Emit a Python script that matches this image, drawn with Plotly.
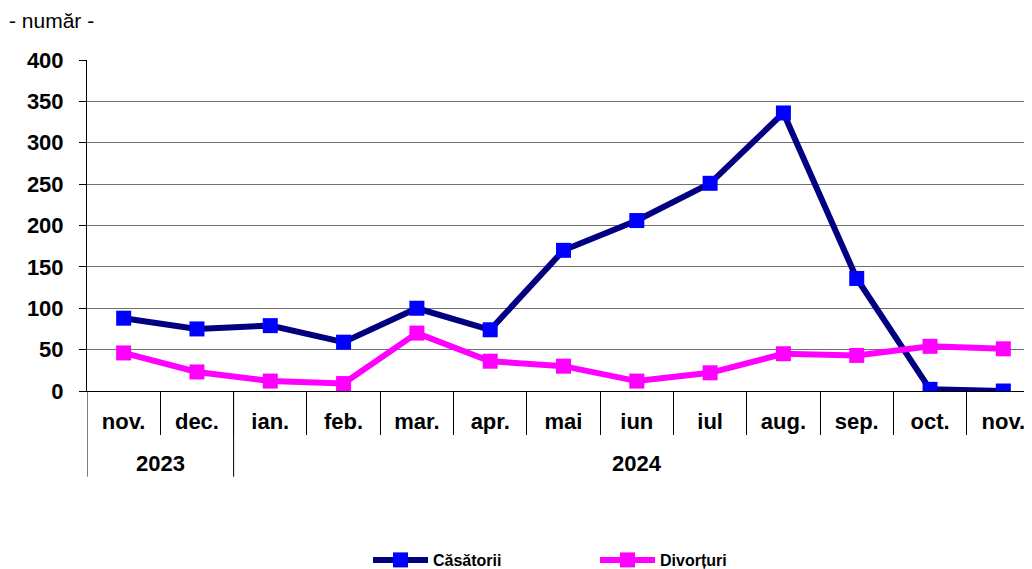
import plotly.graph_objects as go

months = ["nov.", "dec.", "ian.", "feb.", "mar.", "apr.", "mai", "iun", "iul",
          "aug.", "sep.", "oct.", "nov."]
years = ["2023", "2023"] + ["2024"] * 11
casatorii = [88, 75, 79, 59, 100, 74, 170, 206, 251, 336, 136, 2, 0]
divorturi = [46, 23, 12, 9, 70, 36, 30, 12, 22, 45, 43, 54, 51]
y_ticks = [0, 50, 100, 150, 200, 250, 300, 350, 400]

FONT = "Liberation Sans, Arial, sans-serif"
idx = list(range(len(months)))

# page is rendered with an 8px body margin
OFF = 8
W, H = 1032, 569
PLOT_LEFT, PLOT_TOP, PLOT_BOTTOM = 87, 60, 392   # target page pixels
PW = W - (PLOT_LEFT - OFF)
PH = PLOT_BOTTOM - PLOT_TOP

def py(pix):
    return (PLOT_BOTTOM - pix) / PH

def px(pix):
    return (pix - PLOT_LEFT) / PW

fig = go.Figure()
fig.add_trace(go.Scatter(
    x=idx, y=casatorii, name="Căsătorii", mode="lines+markers",
    line=dict(color="#000080", width=6),
    marker=dict(symbol="square", size=15, color="#0000FF"),
))
fig.add_trace(go.Scatter(
    x=idx, y=divorturi, name="Divorțuri", mode="lines+markers",
    line=dict(color="#FF00FF", width=6),
    marker=dict(symbol="square", size=15, color="#FF00FF"),
))

# year group boundaries and centres
groups = []
start = 0
for i in range(1, len(years) + 1):
    if i == len(years) or years[i] != years[start]:
        groups.append((years[start], start, i - 1))
        start = i

shapes = []
annotations = []
for name, a, b in groups:
    shapes.append(dict(type="line", xref="x", yref="paper",
                       x0=a - 0.5, x1=a - 0.5, y0=0, y1=py(478),
                       line=dict(color="black", width=1)))
    annotations.append(dict(text=name, xref="x", yref="paper",
                            x=(a + b) / 2, y=py(465), xanchor="center",
                            yanchor="middle", showarrow=False,
                            font=dict(size=22, family=FONT, weight="bold",
                                      color="black")))

annotations.append(dict(
    text="- număr -", xref="paper", yref="paper",
    x=px(7), y=py(20), xanchor="left", yanchor="middle",
    showarrow=False, font=dict(size=21, family=FONT, color="black"),
))

fig.update_layout(
    width=W, height=H,
    margin=dict(l=PLOT_LEFT - OFF, r=0, t=PLOT_TOP - OFF,
                b=H - (PLOT_BOTTOM - OFF)),
    plot_bgcolor="white", paper_bgcolor="white",
    font=dict(family=FONT, color="black"),
    showlegend=True,
    legend=dict(orientation="h", x=px(368), xanchor="left",
                y=py(561), yanchor="middle",
                font=dict(size=16, family=FONT, weight="bold"),
                itemwidth=55,
                entrywidth=157, entrywidthmode="pixels"),
    xaxis=dict(
        range=[-0.5, len(months) - 0.5], automargin=False,
        tickmode="array", tickvals=idx, ticktext=months,
        showline=True, linecolor="black", linewidth=1,
        ticks="", ticklabelstandoff=11,
        minor=dict(tickmode="array",
                   tickvals=[i + 0.5 for i in idx[:-1]],
                   ticks="outside", ticklen=43, tickcolor="black",
                   tickwidth=1, showgrid=False),
        showgrid=False, zeroline=False,
        tickfont=dict(size=22, family=FONT, weight="bold"),
    ),
    yaxis=dict(
        range=[0, 400], tickvals=y_ticks, automargin=False,
        showline=True, linecolor="black", linewidth=1,
        ticks="outside", ticklen=7, tickcolor="black",
        ticklabelstandoff=11,
        showgrid=True, gridcolor="#707070", gridwidth=1,
        zeroline=False,
        tickfont=dict(size=22, family=FONT, weight="bold"),
    ),
    shapes=shapes,
    annotations=annotations,
)

fig.write_html("out.html")
